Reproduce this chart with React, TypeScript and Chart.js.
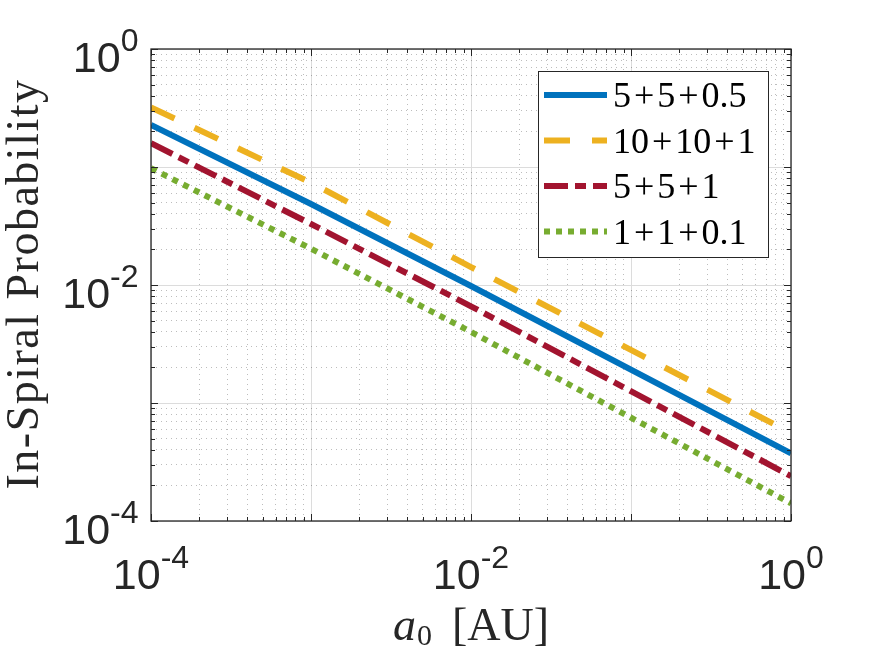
import React, { useEffect, useRef } from 'react';
import { Chart, registerables } from 'chart.js';

Chart.register(...registerables);

// separation a0 [AU] where the curves were read
const separations = [1e-4, 1e-3, 1e-2, 1];

// in-spiral probability for each triple (m1+m2+m3)
const seriesLabels = ['5+5+0.5', '10+10+1', '5+5+1', '1+1+0.1'];
const prob_5_5_05 = [0.227, 0.0486, 0.0098, 3.75e-4];
const prob_10_10_1 = [0.32, 0.0736, 0.0142, 5.57e-4];
const prob_5_5_1 = [0.159, 0.0329, 0.0066, 2.4e-4];
const prob_1_1_01 = [0.0975, 0.0203, 0.004, 1.41e-4];

// decades for the grid, and which ones carry a label
const decades = [-4, -3, -2, -1, 0];
const mantissas = [1, 2, 3, 4, 5, 6, 7, 8, 9];
const labelledExponents = [-4, -2, 0];

const INK = '#262626';
const SANS = '"Liberation Sans", Arial, Helvetica, sans-serif';
const SERIF = '"Liberation Serif", "Times New Roman", serif';

const gridValues: number[] = [];
decades.forEach((d) => {
    if (d === decades[decades.length - 1]) {
        gridValues.push(Math.pow(10, d));
    } else {
        mantissas.forEach((m) => gridValues.push(m * Math.pow(10, d)));
    }
});

const isDecade = (v: number) => Math.abs(Math.log10(v) - Math.round(Math.log10(v))) < 1e-6;

const toPoints = (ys: number[]) => separations.map((x, i) => ({ x, y: ys[i] }));

// 10^e drawn as base + superscript
const drawPower = (ctx: CanvasRenderingContext2D, exp: string, x: number, baseline: number, align: 'right' | 'center') => {
    const baseFont = `43px ${SANS}`;
    const expFont = `32px ${SANS}`;
    ctx.font = baseFont;
    const wb = ctx.measureText('10').width;
    ctx.font = expFont;
    const we = ctx.measureText(exp).width;
    const total = wb + we;
    const left = align === 'right' ? x - total : x - total / 2;
    ctx.textAlign = 'left';
    ctx.textBaseline = 'alphabetic';
    ctx.font = baseFont;
    ctx.fillText('10', left, baseline);
    ctx.font = expFont;
    ctx.fillText(exp, left + wb, baseline - 21);
};

// legend label with math-style spacing around '+'
const drawSum = (ctx: CanvasRenderingContext2D, label: string, x: number, baseline: number) => {
    const parts = label.split('+');
    let cx = x;
    const plusW = ctx.measureText('+').width;
    ctx.textAlign = 'left';
    parts.forEach((p, i) => {
        ctx.fillText(p, cx, baseline);
        cx += ctx.measureText(p).width;
        if (i < parts.length - 1) {
            cx += 3;
            ctx.fillText('+', cx, baseline);
            cx += plusW + 3;
        }
    });
};

const matlabAxes = {
    id: 'matlabAxes',
    afterDatasetsDraw(chart: any) {
        const { ctx, chartArea } = chart;
        const xs = chart.scales.x;
        const ys = chart.scales.y;
        const { left, right, top, bottom } = chartArea;
        ctx.save();

        // ticks pointing inward on all four sides
        ctx.strokeStyle = INK;
        ctx.lineWidth = 1;
        gridValues.forEach((v) => {
            const len = isDecade(v) ? 7 : 4;
            const px = Math.round(xs.getPixelForValue(v)) + 0.5;
            const py = Math.round(ys.getPixelForValue(v)) + 0.5;
            ctx.beginPath();
            ctx.moveTo(px, bottom); ctx.lineTo(px, bottom - len);
            ctx.moveTo(px, top); ctx.lineTo(px, top + len);
            ctx.moveTo(left, py); ctx.lineTo(left + len, py);
            ctx.moveTo(right, py); ctx.lineTo(right - len, py);
            ctx.stroke();
        });

        // box
        ctx.lineWidth = 1.3;
        ctx.strokeRect(left, top, right - left, bottom - top);

        // tick labels
        ctx.fillStyle = INK;
        labelledExponents.forEach((e) => {
            const v = Math.pow(10, e);
            drawPower(ctx, String(e), left - 12.5, ys.getPixelForValue(v) + 23, 'right');
            drawPower(ctx, String(e), xs.getPixelForValue(v), bottom + 68, 'center');
        });

        // y title
        ctx.save();
        ctx.translate(left - 113, (top + bottom) / 2 - 1);
        ctx.rotate(-Math.PI / 2);
        ctx.font = `46px ${SERIF}`;
        (ctx as any).letterSpacing = '1.5px';
        ctx.textAlign = 'center';
        ctx.textBaseline = 'alphabetic';
        ctx.fillText('In-Spiral Probability', 0, 0);
        ctx.restore();

        // x title: a_0 [AU]
        const mainFont = `46px ${SERIF}`;
        const italFont = `italic 46px ${SERIF}`;
        const subFont = `30px ${SERIF}`;
        ctx.font = italFont;
        const wa = ctx.measureText('a').width;
        ctx.font = subFont;
        const ws = ctx.measureText('0').width;
        ctx.font = mainFont;
        const wu = ctx.measureText('[AU]').width;
        const gap = 20;
        const total = wa + 1 + ws + gap + wu;
        let tx = (left + right) / 2 - total / 2;
        const tb = bottom + 119;
        ctx.textAlign = 'left';
        ctx.font = italFont;
        ctx.fillText('a', tx, tb);
        tx += wa + 1;
        ctx.font = subFont;
        ctx.fillText('0', tx, tb + 5);
        tx += ws + gap;
        ctx.font = mainFont;
        ctx.fillText('[AU]', tx, tb);

        // legend box, top right inside the axes
        const lw = 230;
        const lh = 186;
        const lx = right - 23 - lw;
        const ly = top + 22;
        ctx.fillStyle = '#ffffff';
        ctx.fillRect(lx, ly, lw, lh);
        ctx.strokeStyle = INK;
        ctx.lineWidth = 1;
        ctx.strokeRect(Math.round(lx) + 0.5, Math.round(ly) + 0.5, lw, lh);
        ctx.font = `36px ${SERIF}`;
        chart.data.datasets.forEach((ds: any, i: number) => {
            const rowY = ly + 24 + i * 45.5;
            ctx.save();
            ctx.strokeStyle = ds.borderColor;
            ctx.lineWidth = ds.borderWidth;
            ctx.lineCap = 'butt';
            ctx.setLineDash(ds.borderDash || []);
            ctx.beginPath();
            ctx.moveTo(lx + 6, rowY);
            ctx.lineTo(lx + 69, rowY);
            ctx.stroke();
            ctx.restore();
            ctx.fillStyle = '#000000';
            drawSum(ctx, ds.label, lx + 75, rowY + 12);
        });

        ctx.restore();
    },
};

const logAxis = (position: 'bottom' | 'left') => ({
    type: 'logarithmic' as const,
    position,
    min: 1e-4,
    max: 1,
    afterBuildTicks: (scale: any) => {
        scale.ticks = gridValues.map((v) => ({ value: v, major: isDecade(v) }));
    },
    ticks: { display: false },
    grid: {
        drawTicks: false,
        lineWidth: 1,
        color: (c: any) => (c.tick && isDecade(c.tick.value) ? '#dcdcdc' : 'rgba(0,0,0,0.26)'),
    },
    border: {
        display: false,
        dash: (c: any) => (c.tick && isDecade(c.tick.value) ? [] : [1, 4]),
    },
});

const ProbabilityChart: React.FC = () => {
    const canvasRef = useRef<HTMLCanvasElement>(null);

    useEffect(() => {
        document.body.style.margin = '0';
        const ctx = canvasRef.current?.getContext('2d');
        if (!ctx) return;

        const lineSet = (label: string, ys: number[], color: string, dash: number[]) => ({
            label,
            data: toPoints(ys),
            borderColor: color,
            backgroundColor: color,
            borderWidth: 6,
            borderDash: dash,
            borderCapStyle: 'butt' as const,
            pointRadius: 0,
            tension: 0,
            clip: 0,
        });

        const chart = new Chart(ctx, {
            type: 'line',
            data: {
                datasets: [
                    lineSet(seriesLabels[0], prob_5_5_05, '#0072BD', []),
                    lineSet(seriesLabels[1], prob_10_10_1, '#EDB120', [26, 22]),
                    lineSet(seriesLabels[2], prob_5_5_1, '#A2142F', [24, 7, 11, 7]),
                    lineSet(seriesLabels[3], prob_1_1_01, '#77AC30', [6, 6]),
                ],
            },
            options: {
                responsive: false,
                animation: false,
                layout: { padding: { left: 151, right: 84, top: 49, bottom: 135 } },
                scales: {
                    x: logAxis('bottom'),
                    y: logAxis('left'),
                },
                plugins: {
                    legend: { display: false },
                    tooltip: { enabled: false },
                },
            },
            plugins: [matlabAxes],
        });

        return () => chart.destroy();
    }, []);

    return (
        <div style={{ width: 875, height: 656, background: '#ffffff' }}>
            <canvas ref={canvasRef} width={875} height={656} />
        </div>
    );
};

export default function App() {
    return <ProbabilityChart />;
}
